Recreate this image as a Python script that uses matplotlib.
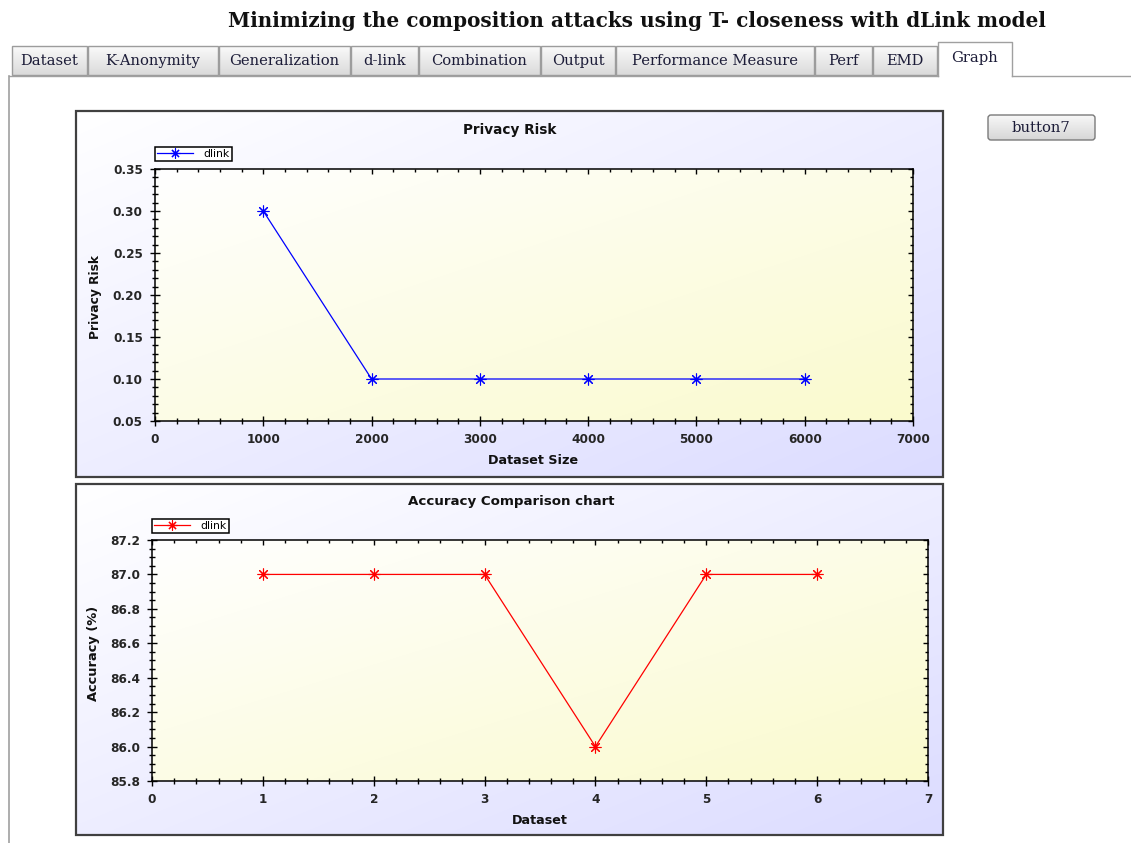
import numpy as np
import matplotlib
matplotlib.use('Agg')
import matplotlib.pyplot as plt
from matplotlib.patches import Rectangle, FancyBboxPatch
from matplotlib.ticker import MultipleLocator, FormatStrFormatter

W, H = 1131, 843
DPI = 100

# ---------------- data ----------------
app_title = "Minimizing the composition attacks using T- closeness with dLink model"
tab_labels = ["Dataset", "K-Anonymity", "Generalization", "d-link", "Combination",
              "Output", "Performance Measure", "Perf", "EMD", "Graph"]
button_label = "button7"

risk_title = "Privacy Risk"
risk_x = [1000, 2000, 3000, 4000, 5000, 6000]
risk_y = [0.30, 0.10, 0.10, 0.10, 0.10, 0.10]
risk_xlabel = "Dataset Size"
risk_ylabel = "Privacy Risk"
risk_series = "dlink"

acc_title = "Accuracy Comparison chart"
acc_x = [1, 2, 3, 4, 5, 6]
acc_y = [87.0, 87.0, 87.0, 86.0, 87.0, 87.0]
acc_xlabel = "Dataset"
acc_ylabel = "Accuracy (%)"
acc_series = "dlink"

# ---------------- layout ----------------
tab_edges = [(12, 87), (88, 218), (219, 350), (351, 418), (419, 540), (541, 615),
             (616, 814), (815, 872), (873, 937), (938, 1012)]

fig = plt.figure(figsize=(W / DPI, H / DPI), dpi=DPI)
fig.patch.set_facecolor('white')
bg = fig.add_axes([0, 0, 1, 1])
bg.axis('off')


def frac(x0, y0, x1, y1):
    return [x0 / W, 1 - y1 / H, (x1 - x0) / W, (y1 - y0) / H]


def grad_img(c0, c1, diagonal=True, n=96):
    u = np.linspace(0, 1, n)
    U, V = np.meshgrid(u, u)
    t = (U + V) / 2 if diagonal else V
    c0 = np.array(c0) / 255.0
    c1 = np.array(c1) / 255.0
    return c0[None, None, :] * (1 - t[..., None]) + c1[None, None, :] * t[..., None]


def bg_grad(x0, y0, x1, y1, c0, c1, diagonal=True, zorder=1):
    return bg.imshow(grad_img(c0, c1, diagonal), extent=(x0, x1, y1, y0),
                     aspect='auto', interpolation='bilinear', zorder=zorder)


# title
bg.text(637, 21, app_title, ha='center', va='center', fontsize=14.4,
        fontweight='bold', family='DejaVu Serif', color='#111111', zorder=5)

# tabs
for (x0, x1), lab in zip(tab_edges, tab_labels):
    if lab == "Graph":
        bg.add_patch(Rectangle((x0, 42), x1 - x0, 35, facecolor='white',
                               edgecolor='none', zorder=3))
        bg.plot([x0, x0, x1, x1], [76, 42, 42, 76], color='#a0a0a0', lw=1.0, zorder=4)
        bg.text((x0 + x1) / 2, 58, lab, ha='center', va='center', fontsize=10.6,
                family='DejaVu Serif', color='#1c1c38', zorder=5)
    else:
        bg_grad(x0, 46, x1, 75, (250, 250, 250), (218, 218, 218), diagonal=False, zorder=2)
        bg.add_patch(Rectangle((x0, 46), x1 - x0, 29, facecolor='none',
                               edgecolor='#9c9c9c', lw=1.0, zorder=3))
        bg.text((x0 + x1) / 2, 61, lab, ha='center', va='center', fontsize=10.6,
                family='DejaVu Serif', color='#1c1c38', zorder=5)

# tab page border
bg.plot([9, 938], [76, 76], color='#a0a0a0', lw=1.0, zorder=3)
bg.plot([1012, W], [76, 76], color='#a0a0a0', lw=1.0, zorder=3)
bg.plot([9, 9], [76, H], color='#a0a0a0', lw=1.2, zorder=3)

# button
btn = FancyBboxPatch((988, 115), 107, 25, boxstyle='round,pad=0,rounding_size=3',
                     facecolor='none', edgecolor='#7a7a7a', lw=1.0, zorder=4)
bg.add_patch(btn)
im = bg_grad(988, 115, 1095, 140, (248, 248, 248), (214, 214, 214), diagonal=False, zorder=3)
im.set_clip_path(btn)
bg.text(1041, 128, button_label, ha='center', va='center', fontsize=10.6,
        family='DejaVu Serif', color='#1c1c38', zorder=5)

# panels
for (x0, y0, x1, y1) in [(76, 111, 943, 477), (76, 484, 943, 835)]:
    bg_grad(x0, y0, x1, y1, (255, 255, 255), (220, 220, 255), zorder=2)
    bg.add_patch(Rectangle((x0, y0), x1 - x0, y1 - y0, facecolor='none',
                           edgecolor='#404040', lw=1.6, zorder=3))

bg.set_xlim(0, W)
bg.set_ylim(H, 0)


def make_chart(rect_px, x, y, color, xlim, ylim, xmaj, xmin, ymaj, ymin, yfmt,
               series, legend_px):
    ax = fig.add_axes(frac(*rect_px))
    ax.imshow(grad_img((255, 255, 255), (250, 250, 205)), extent=(0, 1, 0, 1),
              transform=ax.transAxes, aspect='auto', interpolation='bilinear', zorder=0)
    ax.plot(x, y, color=color, lw=0.9, marker=(8, 2, 0), ms=8.5, mew=0.8,
            mec=color, label=series, zorder=3)
    ax.set_xlim(*xlim)
    ax.set_ylim(*ylim)
    ax.xaxis.set_major_locator(MultipleLocator(xmaj))
    ax.xaxis.set_minor_locator(MultipleLocator(xmin))
    ax.yaxis.set_major_locator(MultipleLocator(ymaj))
    ax.yaxis.set_minor_locator(MultipleLocator(ymin))
    ax.yaxis.set_major_formatter(FormatStrFormatter(yfmt))
    ax.tick_params(which='both', direction='inout', top=False, right=False,
                   width=1.0, color='black', labelcolor='#262626', pad=5)
    ax.tick_params(which='major', length=7.5)
    ax.tick_params(which='minor', length=4.5)
    for lab in ax.get_xticklabels() + ax.get_yticklabels():
        lab.set_fontfamily('DejaVu Sans')
        lab.set_fontsize(8.7)
        lab.set_fontweight('bold')
    for s in ax.spines.values():
        s.set_linewidth(1.1)
        s.set_color('black')
    ax.set_facecolor('none')

    ov = fig.add_axes(frac(*rect_px))
    ov.set_xlim(*xlim)
    ov.set_ylim(*ylim)
    ov.patch.set_alpha(0)
    for s in ov.spines.values():
        s.set_visible(False)
    ov.xaxis.set_major_locator(MultipleLocator(xmaj))
    ov.xaxis.set_minor_locator(MultipleLocator(xmin))
    ov.yaxis.set_major_locator(MultipleLocator(ymaj))
    ov.yaxis.set_minor_locator(MultipleLocator(ymin))
    ov.tick_params(which='both', direction='in', top=True, right=True, bottom=False,
                   left=False, labelbottom=False, labelleft=False, width=1.0)
    ov.tick_params(which='major', length=3.8)
    ov.tick_params(which='minor', length=2.4)

    leg = ax.legend(loc='lower left', bbox_to_anchor=legend_px, bbox_transform=bg.transData,
                    borderaxespad=0, fancybox=False, edgecolor='black', framealpha=1,
                    facecolor='white', prop=dict(family='DejaVu Sans', size=7.8),
                    handlelength=3.3, borderpad=0.2, handletextpad=1.0,
                    markerscale=0.85)
    leg.get_frame().set_linewidth(1.1)
    return ax


make_chart((155, 169, 913, 421), risk_x, risk_y, 'blue', (0, 7000), (0.05, 0.35),
           1000, 200, 0.05, 0.01, '%.2f', risk_series, (155, 161))
make_chart((152, 540, 928, 781), acc_x, acc_y, 'red', (0, 7), (85.8, 87.2),
           1, 0.2, 0.2, 0.05, '%.1f', acc_series, (152, 533))

LBL = dict(family='DejaVu Sans', fontweight='bold', color='#111111', zorder=6)
bg.text(510, 130, risk_title, ha='center', va='center', fontsize=9.8, **LBL)
bg.text(533, 461, risk_xlabel, ha='center', va='center', fontsize=9.2, **LBL)
bg.text(96, 297, risk_ylabel, ha='center', va='center', fontsize=8.8, rotation=90, **LBL)
bg.text(511, 501, acc_title, ha='center', va='center', fontsize=9.6, **LBL)
bg.text(540, 820, acc_xlabel, ha='center', va='center', fontsize=9.2, **LBL)
bg.text(93, 653, acc_ylabel, ha='center', va='center', fontsize=9.4, rotation=90, **LBL)

fig.savefig('out.png', dpi=DPI)
